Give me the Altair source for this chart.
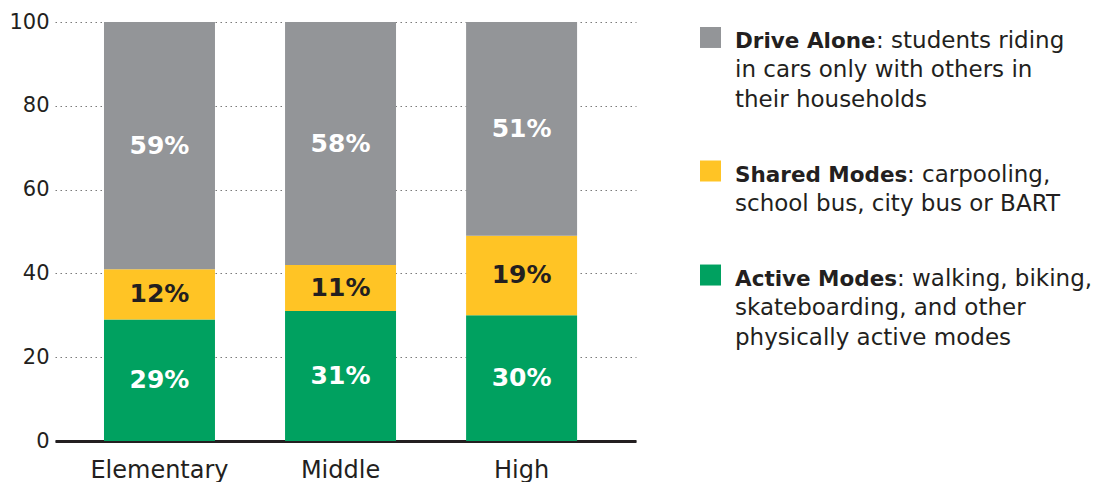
import altair as alt
import pandas as pd

# ---- data ----
levels = ["Elementary", "Middle", "High"]
modes = ["Active Modes", "Shared Modes", "Drive Alone"]
active_pct = [29, 31, 30]
shared_pct = [12, 11, 19]
drive_pct = [59, 58, 51]
y_ticks = [0, 20, 40, 60, 80, 100]

legend_order = ["Drive Alone", "Shared Modes", "Active Modes"]
legend_first = [": students riding", ": carpooling,", ": walking, biking,"]
legend_rest = [
    ["in cars only with others in", "their households"],
    ["school bus, city bus or BART"],
    ["skateboarding, and other", "physically active modes"],
]

# ---- styles ----
mode_colors = ["#00A160", "#FFC425", "#939598"]
FONT = "DejaVu Sans"
TEXT = "#231F20"
LH = 29.5
BOLD_W = {"Drive Alone": 141, "Shared Modes": 172, "Active Modes": 162}
LEG_H = 348.5
LEG_PAD = 0.467

rows = []
for i, lv in enumerate(levels):
    for j, vals in enumerate([active_pct, shared_pct, drive_pct]):
        rows.append({"level": lv, "mode": modes[j], "order": j, "value": vals[i]})
df = pd.DataFrame(rows)

color_scale = alt.Scale(domain=modes, range=mode_colors)

x_axis = alt.Axis(
    title=None, labelAngle=0, ticks=False, domainColor=TEXT, domainWidth=3,
    labelFont=FONT, labelFontSize=24, labelColor=TEXT, labelPadding=17,
)
x_scale = alt.Scale(paddingInner=0.387, paddingOuter=0.298, align=0.454)
y_axis = alt.Axis(
    title=None, values=y_ticks, ticks=False, domain=False,
    gridDash=[1.5, 3.5], gridColor="#7a7a7a", gridWidth=1.2,
    labelFont=FONT, labelFontSize=21, labelColor=TEXT, labelPadding=6,
)
y_scale = alt.Scale(domain=[0, 100])

bars = alt.Chart(df).mark_bar().encode(
    x=alt.X("level:N", sort=levels, scale=x_scale, axis=x_axis),
    y=alt.Y("value:Q", stack="zero", scale=y_scale, axis=y_axis),
    color=alt.Color("mode:N", scale=color_scale, legend=None),
    order=alt.Order("order:Q"),
)

labels = (
    alt.Chart(df)
    .transform_stack(stack="value", as_=["v0", "v1"], groupby=["level"],
                     sort=[alt.SortField("order")])
    .transform_calculate(mid="(datum.v0 + datum.v1) / 2", lab="datum.value + '%'")
    .mark_text(font=FONT, fontWeight="bold", fontSize=25, baseline="middle")
    .encode(
        x=alt.X("level:N", sort=levels, scale=x_scale, axis=x_axis),
        y=alt.Y("mid:Q", scale=y_scale, axis=y_axis),
        text="lab:N",
        color=alt.condition("datum.mode == 'Shared Modes'", alt.value(TEXT), alt.value("white")),
    )
)

main = alt.layer(bars, labels).properties(width=581, height=419)

# ---- legend panel ----
legend_df = pd.DataFrame({
    "name": legend_order,
    "first": legend_first,
    "rest": ["\n".join(r) for r in legend_rest],
})
leg_base = alt.Chart(legend_df)
ly = alt.Y("name:N", sort=legend_order, scale=alt.Scale(padding=LEG_PAD), axis=None)

layers = []
for name, rest in zip(legend_order, legend_rest):
    off0 = -len(rest) / 2 * LH
    sub = leg_base.transform_filter(alt.datum.name == name)
    layers.append(
        sub.mark_square(size=441, opacity=1, yOffset=off0 - 10.5).encode(
            x=alt.value(74.5), y=ly,
            color=alt.Color("name:N", scale=color_scale, legend=None),
        )
    )
    layers.append(
        sub.mark_text(align="left", baseline="alphabetic", font=FONT, fontSize=21.5,
                      fontWeight="bold", color=TEXT, dy=off0)
        .encode(x=alt.value(99), y=ly, text="name:N")
    )
    layers.append(
        sub.mark_text(align="left", baseline="alphabetic", font=FONT, fontSize=23,
                      color=TEXT, dy=off0, dx=BOLD_W[name])
        .encode(x=alt.value(99), y=ly, text="first:N")
    )
    layers.append(
        sub.mark_text(align="left", baseline="alphabetic", font=FONT, fontSize=23,
                      color=TEXT, dy=off0 + LH, lineBreak="\n", lineHeight=LH)
        .encode(x=alt.value(99), y=ly, text="rest:N")
    )

legend = alt.layer(*layers).properties(width=460, height=LEG_H)

chart = (
    alt.hconcat(main, legend, spacing=0)
    .properties(padding={"left": 0, "top": 3, "right": 0, "bottom": 0})
    .configure_view(stroke=None)
)

chart.save("out.html", embed_options={"renderer": "svg", "actions": False})
